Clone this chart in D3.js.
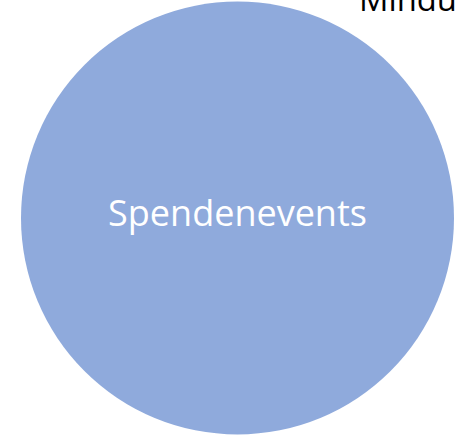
<!DOCTYPE html>
<html><head><meta charset="utf-8">
<script src="https://cdn.jsdelivr.net/npm/d3@7"></script>
<style>html,body{margin:0;padding:0;background:#fff;overflow:hidden}</style>
</head><body>
<script>
const categories = ["Spendenevents"];
const values = [1];
const topLabel = "Mindu";

const W = 460, H = 435;
const svg = d3.select("body").append("svg").attr("width", W).attr("height", H);

const r = d3.scaleSqrt().domain([0, d3.max(values)]).range([0, 216.5]);
const x = d3.scalePoint().domain(categories).range([237.5, 237.5]);
const FONT = "'Open Sans', 'Noto Sans', sans-serif";

function fitWidth(sel, target) {
  const n = sel.node();
  const w = n.getComputedTextLength();
  const fs = parseFloat(sel.attr("font-size"));
  sel.attr("font-size", fs * target / w);
}

const g = svg.selectAll("g.bubble").data(categories.map((c, i) => ({c, v: values[i]})))
  .join("g").attr("class", "bubble")
  .attr("transform", d => `translate(${x(d.c)},218)`);
g.append("circle").attr("r", d => r(d.v)).attr("fill", "#8FAADC");
const lbl = g.append("text").text(d => d.c)
  .attr("text-anchor", "middle").attr("y", 7.5)
  .attr("fill", "#fff").attr("font-family", FONT)
  .attr("font-size", 30);
fitWidth(lbl, 259);

const topText = svg.append("text").text(topLabel).attr("x", 359).attr("y", 11)
  .attr("fill", "#000").attr("font-family", FONT)
  .attr("font-size", 30);
fitWidth(topText, 98);
</script>
</body></html>
